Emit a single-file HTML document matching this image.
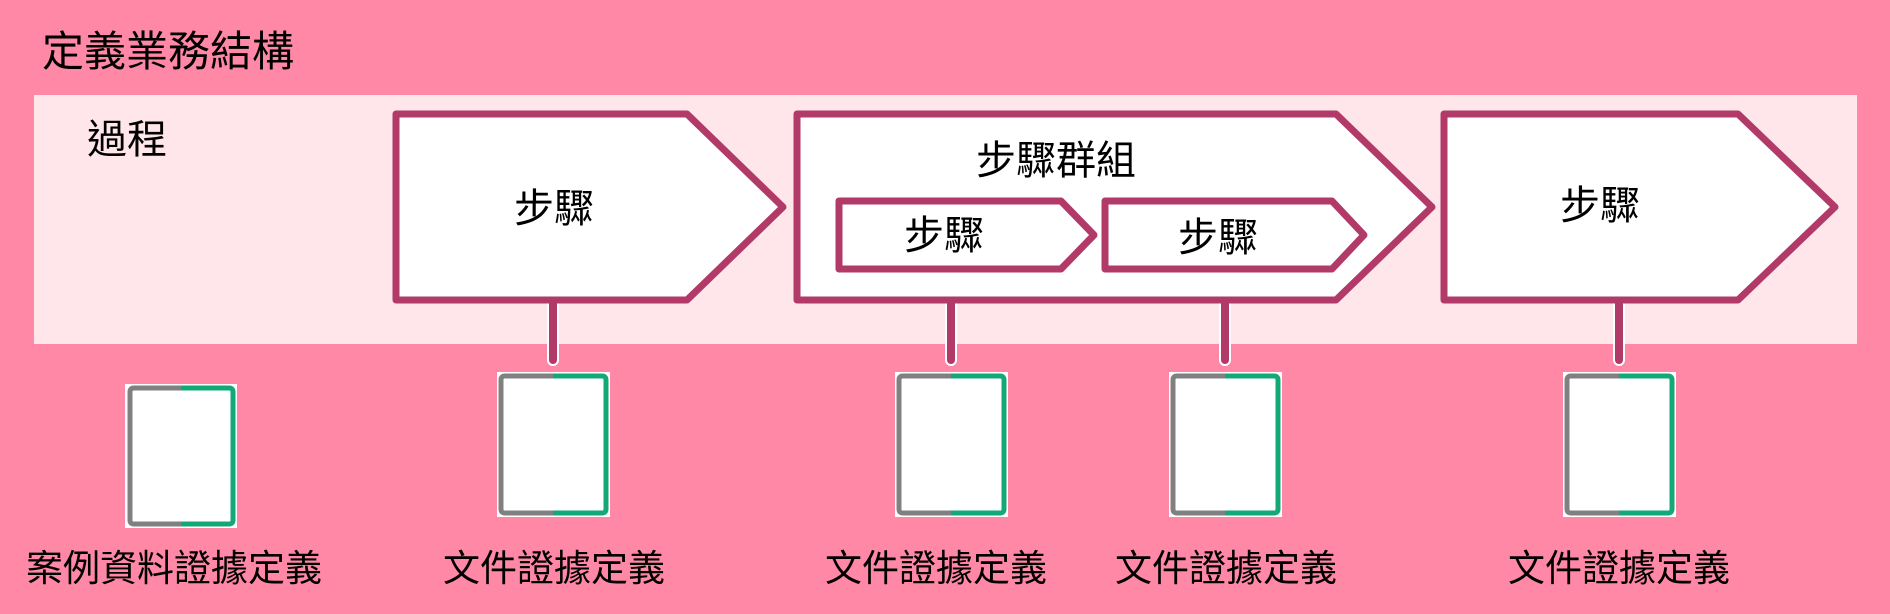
<!DOCTYPE html>
<html><head><meta charset="utf-8"><style>
html,body{margin:0;padding:0;background:#FF88A6;}
svg{display:block}
text{font-family:"Liberation Sans","Noto Sans CJK TC",sans-serif;fill:#000}
</style></head><body>
<svg width="1890" height="614" viewBox="0 0 1890 614" xmlns="http://www.w3.org/2000/svg">
<rect x="0" y="0" width="1890" height="614" fill="#FF88A6"/>
<text x="42" y="66" font-size="42">定義業務結構</text>
<rect x="34" y="95" width="1823" height="249" fill="#FFE6EB"/>
<text x="87" y="153" font-size="40">過程</text>

<g stroke="#FFFFFF" stroke-width="12" stroke-linecap="round">
<line x1="553" y1="300" x2="553" y2="360"/>
<line x1="951" y1="300" x2="951" y2="360"/>
<line x1="1225" y1="300" x2="1225" y2="360"/>
<line x1="1619" y1="300" x2="1619" y2="360"/>
</g>
<g stroke="#B23A68" stroke-width="8" stroke-linecap="round">
<line x1="553" y1="300" x2="553" y2="360"/>
<line x1="951" y1="300" x2="951" y2="360"/>
<line x1="1225" y1="300" x2="1225" y2="360"/>
<line x1="1619" y1="300" x2="1619" y2="360"/>
</g>

<g fill="#FFFFFF" stroke="#B23A68" stroke-width="7" stroke-linejoin="round">
<path d="M396 114 L687 114 L783 207 L687 300 L396 300 Z"/>
<path d="M797 114 L1336 114 L1432 207 L1336 300 L797 300 Z"/>
<path d="M839 201 L1061 201 L1094 235 L1061 269 L839 269 Z"/>
<path d="M1105 201 L1332 201 L1364 235 L1332 269 L1105 269 Z"/>
<path d="M1444 114 L1738 114 L1835 207 L1738 300 L1444 300 Z"/>
</g>
<g font-size="40" text-anchor="middle">
<text x="554" y="222">步驟</text>
<text x="1056" y="174">步驟群組</text>
<text x="944" y="249">步驟</text>
<text x="1218" y="251">步驟</text>
<text x="1600" y="219">步驟</text>
</g>

<g>
<rect x="125" y="384" width="112" height="144" fill="#fff"/>
<path d="M181 388 L134 388 Q130 388 130 392 L130 520 Q130 524 134 524 L181 524" fill="none" stroke="#808080" stroke-width="5"/>
<path d="M181 388 L229 388 Q233 388 233 392 L233 520 Q233 524 229 524 L181 524" fill="none" stroke="#13A877" stroke-width="5"/>
</g>
<g>
<rect x="497" y="372" width="113" height="145" fill="#fff"/>
<path d="M553 376 L505 376 Q501 376 501 380 L501 509 Q501 513 505 513 L553 513" fill="none" stroke="#808080" stroke-width="5"/>
<path d="M553 376 L602 376 Q606 376 606 380 L606 509 Q606 513 602 513 L553 513" fill="none" stroke="#13A877" stroke-width="5"/>
</g>
<g>
<rect x="895" y="372" width="113" height="145" fill="#fff"/>
<path d="M951 376 L903 376 Q899 376 899 380 L899 509 Q899 513 903 513 L951 513" fill="none" stroke="#808080" stroke-width="5"/>
<path d="M951 376 L1000 376 Q1004 376 1004 380 L1004 509 Q1004 513 1000 513 L951 513" fill="none" stroke="#13A877" stroke-width="5"/>
</g>
<g>
<rect x="1169" y="372" width="113" height="145" fill="#fff"/>
<path d="M1225 376 L1177 376 Q1173 376 1173 380 L1173 509 Q1173 513 1177 513 L1225 513" fill="none" stroke="#808080" stroke-width="5"/>
<path d="M1225 376 L1274 376 Q1278 376 1278 380 L1278 509 Q1278 513 1274 513 L1225 513" fill="none" stroke="#13A877" stroke-width="5"/>
</g>
<g>
<rect x="1563" y="372" width="113" height="145" fill="#fff"/>
<path d="M1619 376 L1571 376 Q1567 376 1567 380 L1567 509 Q1567 513 1571 513 L1619 513" fill="none" stroke="#808080" stroke-width="5"/>
<path d="M1619 376 L1668 376 Q1672 376 1672 380 L1672 509 Q1672 513 1668 513 L1619 513" fill="none" stroke="#13A877" stroke-width="5"/>
</g>

<g font-size="37" text-anchor="middle">
<text x="174" y="581">案例資料證據定義</text>
<text x="554" y="581">文件證據定義</text>
<text x="936" y="581">文件證據定義</text>
<text x="1226" y="581">文件證據定義</text>
<text x="1619" y="581">文件證據定義</text>
</g>
</svg>
</body></html>
